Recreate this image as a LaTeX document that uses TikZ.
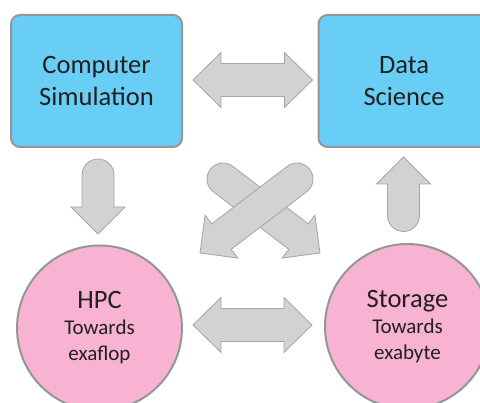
\documentclass[tikz,border=0pt]{standalone}
\usepackage{fontspec}
\setmainfont{Carlito}
\usetikzlibrary{calc}

\definecolor{boxblue}{RGB}{104,206,245}
\definecolor{ringpink}{RGB}{247,179,209}
\definecolor{edgegrey}{RGB}{150,150,150}
\definecolor{arrowfill}{RGB}{209,210,212}
\definecolor{arrowedge}{RGB}{165,165,165}
\definecolor{inkdark}{RGB}{35,31,32}

% block arrow with a rounded tail: tail centre #1, tip #2
\newcommand\roundarrow[2]{%
  \path[blockarrow] let \p1=(#1), \p2=(#2), \n1={atan2(\y2-\y1,\x2-\x1)} in
    ($(#1)!16pt!90:(#2)$)
    -- ($(#2)!27pt!(#1)!16pt!-90:(#1)$)
    -- ($(#2)!27pt!(#1)!27pt!-90:(#1)$)
    -- (#2)
    -- ($(#2)!27pt!(#1)!27pt!90:(#1)$)
    -- ($(#2)!27pt!(#1)!16pt!90:(#1)$)
    -- ($(#1)!16pt!-90:(#2)$)
    arc[start angle=\n1-90, end angle=\n1-270, radius=16pt] -- cycle;
}
% block arrow with heads at both ends #1 and #2
\newcommand\twowayarrow[2]{%
  \path[blockarrow]
    (#1)
    -- ($(#1)!28pt!(#2)!27.5pt!90:(#2)$)
    -- ($(#1)!28pt!(#2)!16.5pt!90:(#2)$)
    -- ($(#2)!28pt!(#1)!16.5pt!-90:(#1)$)
    -- ($(#2)!28pt!(#1)!27.5pt!-90:(#1)$)
    -- (#2)
    -- ($(#2)!28pt!(#1)!27.5pt!90:(#1)$)
    -- ($(#2)!28pt!(#1)!16.5pt!90:(#1)$)
    -- ($(#1)!28pt!(#2)!16.5pt!-90:(#2)$)
    -- ($(#1)!28pt!(#2)!27.5pt!-90:(#2)$)
    -- cycle;
}

\newcommand\goaltitle[1]{{\fontsize{26.5}{26}\selectfont #1}}

\tikzset{
  topic/.style={draw=edgegrey, line width=2pt, fill=boxblue, rounded corners=9pt,
    minimum width=171pt, minimum height=132pt, align=center, text=inkdark,
    font=\fontsize{26.5}{32}\selectfont},
  goal/.style={circle, draw=edgegrey, line width=2pt, fill=ringpink,
    minimum size=165pt, inner sep=0pt, align=center, text=inkdark,
    font=\fontsize{21}{26}\selectfont},
  blockarrow/.style={draw=arrowedge, line width=0.8pt, fill=arrowfill, line join=miter},
}

\begin{document}
\begin{tikzpicture}[x=1pt, y=1pt]
  \useasboundingbox (0,0) rectangle (480,403);
  \clip (0,0) rectangle (480,403);
  \fill[white] (0,0) rectangle (480,403);

  % the four topics
  \node[topic] (sim) at (96.5,322) {Computer\\Simulation};
  \node[topic] (data) at (404,322) {Data\\Science};
  \node[goal] (hpc) at (99.5,75) {\goaltitle{HPC}\\Towards\\exaflop};
  \node[goal] (store) at (407.5,76.5) {\goaltitle{Storage}\\Towards\\exabyte};

  % connector end points
  \coordinate (simL) at ($(sim.east)+(10,1)$);
  \coordinate (dataR) at ($(data.west)+(-5,1)$);
  \coordinate (hpcR) at ($(hpc.east)+(10,3)$);
  \coordinate (storeL) at ($(store.west)+(-12,1.5)$);
  \coordinate (simTail) at ($(sim.south)+(1.5,-27)$);
  \coordinate (hpcTip) at ($(hpc.north)+(-1.5,10.5)$);
  \coordinate (storeTail) at ($(store.north)+(-4,27.5)$);
  \coordinate (dataTip) at ($(data.south)+(-0.5,-9)$);
  \coordinate (crossAtail) at (297,224);
  \coordinate (crossAtip) at (200,150);
  \coordinate (crossBtail) at (223,224);
  \coordinate (crossBtip) at (320,150);

  % connectors
  \twowayarrow{simL}{dataR}
  \twowayarrow{hpcR}{storeL}
  \roundarrow{simTail}{hpcTip}
  \roundarrow{storeTail}{dataTip}
  \roundarrow{crossBtail}{crossBtip}
  \roundarrow{crossAtail}{crossAtip}
\end{tikzpicture}
\end{document}
